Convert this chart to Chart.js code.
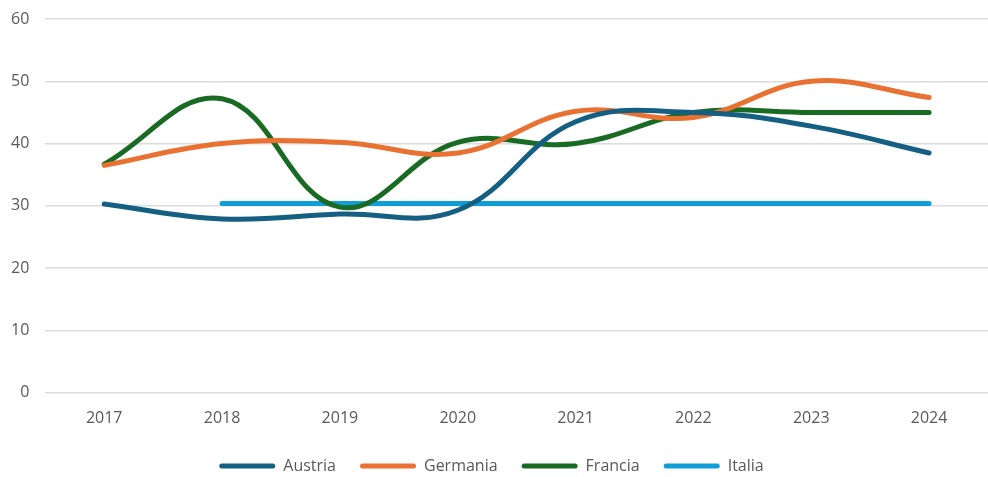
<!DOCTYPE html>
<html>
<head>
<meta charset="utf-8">
<script src="https://cdn.jsdelivr.net/npm/chart.js@4/dist/chart.umd.min.js"></script>
<style>
  html, body { margin: 0; padding: 0; background: #ffffff; }
  #wrap { width: 988px; height: 477px; position: relative; }
</style>
</head>
<body>
<div id="wrap"><canvas id="chart"></canvas></div>
<script>
// Years on the category axis
const years = ['2017', '2018', '2019', '2020', '2021', '2022', '2023', '2024'];

// Series values per year
const austria  = [30.3, 27.9, 28.7, 29.3, 43.5, 45.0, 42.8, 38.5];
const germania = [36.5, 40.0, 40.2, 38.5, 45.2, 44.2, 50.0, 47.4];
const francia  = [36.7, 47.2, 29.8, 40.2, 40.0, 45.0, 45.0, 45.0];
const italia   = [null, 30.4, 30.4, 30.4, 30.4, 30.4, 30.4, 30.4];

// Y axis range and step
const yMin = 0, yMax = 60, yStep = 10;

const textColor = '#595959';
const fontFamily = '"Open Sans", "Liberation Sans", Arial, sans-serif';

function series(label, data, color) {
  return {
    label, data,
    borderColor: color,
    backgroundColor: color,
    borderWidth: 5,
    pointRadius: 0,
    pointHoverRadius: 0,
    tension: 0.4,
    borderCapStyle: 'round',
    fill: false,
    spanGaps: false
  };
}

// Trims the legend block so it sits closer to the bottom edge
const compactLegend = {
  id: 'compactLegend',
  beforeLayout(chart) {
    const lg = chart.legend;
    if (lg && !lg._compact) {
      const fit = lg.fit;
      lg.fit = function () {
        fit.call(this);
        this.height -= 7;
      };
      lg._compact = true;
    }
  }
};

new Chart(document.getElementById('chart'), {
  type: 'line',
  data: {
    labels: years,
    datasets: [
      series('Austria', austria, '#156082'),
      series('Germania', germania, '#E97132'),
      series('Francia', francia, '#196B24'),
      series('Italia', italia, '#0F9ED5')
    ]
  },
  plugins: [compactLegend],
  options: {
    responsive: true,
    maintainAspectRatio: false,
    animation: false,
    layout: { padding: { left: -5, right: 0, top: 19, bottom: 0 } },
    plugins: {
      tooltip: { enabled: false },
      legend: {
        position: 'bottom',
        labels: {
          color: textColor,
          font: { family: fontFamily, size: 16 },
          boxWidth: 56,
          boxHeight: 5,
          padding: 24,
          generateLabels(chart) {
            return chart.data.datasets.map((ds, i) => ({
              text: ds.label,
              fillStyle: ds.borderColor,
              strokeStyle: ds.borderColor,
              lineWidth: 0,
              borderRadius: 2.5,
              fontColor: textColor,
              hidden: false,
              datasetIndex: i
            }));
          }
        }
      }
    },
    scales: {
      x: {
        offset: true,
        grid: { display: false },
        border: { display: false },
        ticks: { color: textColor, font: { family: fontFamily, size: 16 }, padding: 8 },
        afterFit(scale) { scale.height -= 2; }
      },
      y: {
        min: yMin, max: yMax,
        ticks: { stepSize: yStep, color: textColor, font: { family: fontFamily, size: 16 }, padding: 16 },
        grid: { color: '#dcdcdc', lineWidth: 1.5, drawTicks: false },
        border: { display: false },
        afterFit(scale) { scale.paddingTop = 0; }
      }
    }
  }
});
</script>
</body>
</html>
